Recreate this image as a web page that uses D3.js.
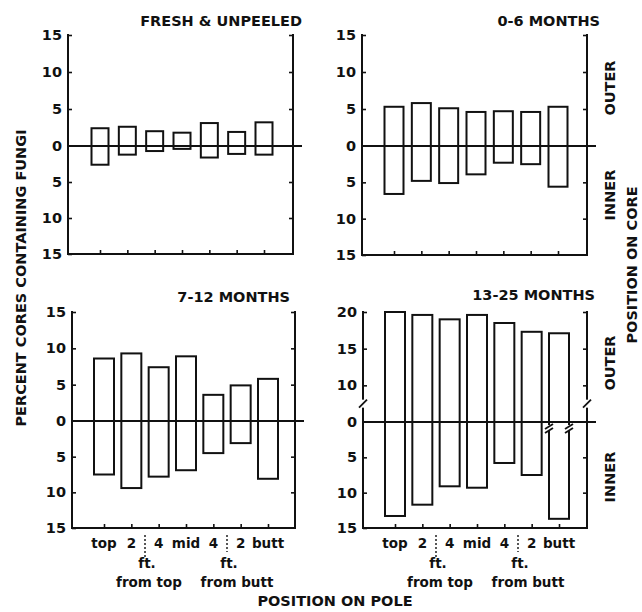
<!DOCTYPE html>
<html>
<head>
<meta charset="utf-8">
<script src="https://cdn.jsdelivr.net/npm/d3@7"></script>
<style>
  html, body { margin: 0; padding: 0; background: #fff; }
  svg text { font-family: "DejaVu Sans", sans-serif; fill: #111; font-weight: bold; }
</style>
</head>
<body>
<svg id="chart" width="642" height="612"></svg>
<script>
// ---------- data ----------
const positions = ["top", "2", "4", "mid", "4", "2", "butt"];
const panelTitles = ["FRESH & UNPEELED", "0-6 MONTHS", "7-12 MONTHS", "13-25 MONTHS"];

const outerFresh = [2.4, 2.6, 2.0, 1.8, 3.1, 1.9, 3.2];
const innerFresh = [2.6, 1.2, 0.7, 0.4, 1.6, 1.1, 1.2];

const outer0to6 = [5.3, 5.8, 5.1, 4.6, 4.7, 4.6, 5.3];
const inner0to6 = [6.6, 4.8, 5.1, 3.9, 2.3, 2.5, 5.6];

const outer7to12 = [8.6, 9.3, 7.4, 8.9, 3.6, 4.9, 5.8];
const inner7to12 = [7.5, 9.4, 7.8, 6.9, 4.5, 3.1, 8.1];

const outer13to25 = [20.0, 19.6, 19.0, 19.6, 18.5, 17.3, 17.1];
const inner13to25 = [13.3, 11.7, 9.1, 9.3, 5.8, 7.5, 13.7];

const outerTicks = [15, 10, 5, 0];
const outerTicksBroken = [20, 15, 10, 0];
const innerTicks = [5, 10, 15];

const yAxisTitle = "PERCENT CORES CONTAINING FUNGI";
const xAxisTitle = "POSITION ON POLE";
const coreTitle = "POSITION ON CORE";
const coreSides = ["OUTER", "INNER"];

// ---------- layout ----------
const svg = d3.select("#chart");
const CAP = 14.5;   // capital lettering size
const panels = [
  { title: panelTitles[0], outer: outerFresh, inner: innerFresh, left: 68, right: 293, top: 35, zero: 146, bottom: 254, titleX: 302, titleY: 26, barW: 17, labels: false, broken: false },
  { title: panelTitles[1], outer: outer0to6, inner: inner0to6, left: 362, right: 587, top: 35, zero: 146, bottom: 255, titleX: 600, titleY: 26, barW: 19, labels: false, broken: false },
  { title: panelTitles[2], outer: outer7to12, inner: inner7to12, left: 72, right: 295, top: 312, zero: 421, bottom: 528, titleX: 290, titleY: 302, barW: 20, labels: true, broken: false },
  { title: panelTitles[3], outer: outer13to25, inner: inner13to25, left: 363, right: 587, top: 312, zero: 422, bottom: 528, titleX: 595, titleY: 300, barW: 20, labels: true, broken: true }
];

const LW = 2;

panels.forEach(p => {
  const g = svg.append("g");

  const yOuter = p.broken
    ? d3.scaleLinear().domain([0, 10, 20]).range([p.zero, p.zero - (p.zero - p.top) / 3, p.top])
    : d3.scaleLinear().domain([0, 15]).range([p.zero, p.top]);
  const yInner = d3.scaleLinear().domain([0, 15]).range([p.zero, p.bottom]);
  const x = d3.scalePoint().domain(d3.range(positions.length)).range([p.left + 32, p.left + 196]);

  // bars
  g.selectAll("rect.bar").data(p.outer).join("rect")
    .attr("class", "bar")
    .attr("x", (d, i) => x(i) - p.barW / 2)
    .attr("y", d => yOuter(d))
    .attr("width", p.barW)
    .attr("height", (d, i) => yInner(p.inner[i]) - yOuter(d))
    .attr("fill", "none")
    .attr("stroke", "#111")
    .attr("stroke-width", LW);

  // axes
  const oT = p.broken ? outerTicksBroken : outerTicks;
  const leftOuter = g.append("g").attr("transform", `translate(${p.left},0)`)
    .call(d3.axisLeft(yOuter).tickValues(oT).tickSize(-4).tickPadding(6).tickFormat(d3.format("d")));
  const leftInner = g.append("g").attr("transform", `translate(${p.left},0)`)
    .call(d3.axisLeft(yInner).tickValues(innerTicks).tickSize(-4).tickPadding(6).tickFormat(d3.format("d")));
  const rightOuter = g.append("g").attr("transform", `translate(${p.right},0)`)
    .call(d3.axisRight(yOuter).tickValues(oT.filter(v => v !== 0)).tickSize(-4).tickFormat(""));
  const rightInner = g.append("g").attr("transform", `translate(${p.right},0)`)
    .call(d3.axisRight(yInner).tickValues(innerTicks.filter(v => v !== 15)).tickSize(-4).tickFormat(""));
  const bottomAx = g.append("g").attr("transform", `translate(0,${p.bottom})`)
    .call(d3.axisBottom(x).tickSize(-4).tickFormat(""));

  [leftOuter, leftInner, rightOuter, rightInner, bottomAx].forEach(a => {
    a.select(".domain").remove();
    a.selectAll("line").attr("stroke", "#111").attr("stroke-width", 1.6);
    a.selectAll("text").attr("font-size", 14.5).attr("fill", "#111")
      .style("font-family", "DejaVu Sans, sans-serif").style("font-weight", "bold");
  });
  leftOuter.selectAll(".tick").filter(d => d === 0).select("line").remove();

  // axis lines
  g.append("line").attr("x1", p.left).attr("x2", p.left).attr("y1", p.top - 1).attr("y2", p.bottom + 1)
    .attr("stroke", "#111").attr("stroke-width", LW);
  g.append("line").attr("x1", p.right).attr("x2", p.right).attr("y1", p.top - 1).attr("y2", p.bottom + 1)
    .attr("stroke", "#111").attr("stroke-width", LW);
  g.append("line").attr("x1", p.left).attr("x2", p.right).attr("y1", p.bottom).attr("y2", p.bottom)
    .attr("stroke", "#111").attr("stroke-width", LW);
  // zero line
  g.append("line").attr("x1", p.left).attr("x2", p.right + 9).attr("y1", p.zero).attr("y2", p.zero)
    .attr("stroke", "#111").attr("stroke-width", LW);

  // axis breaks
  if (p.broken) {
    const yb = (yOuter(10) + p.zero) / 2;
    [p.left, p.right].forEach(xb => {
      g.append("rect").attr("x", xb - 3).attr("y", yb - 4).attr("width", 6).attr("height", 8).attr("fill", "#fff");
      g.append("line").attr("x1", xb - 4).attr("y1", yb + 4).attr("x2", xb + 4).attr("y2", yb - 4)
        .attr("stroke", "#111").attr("stroke-width", 1.8);
    });
    const last = positions.length - 1;
    const ybb = p.zero + 6;
    [x(last) - p.barW / 2, x(last) + p.barW / 2].forEach(xb => {
      g.append("rect").attr("x", xb - 3).attr("y", ybb - 3).attr("width", 6).attr("height", 6).attr("fill", "#fff");
      g.append("line").attr("x1", xb - 4).attr("y1", ybb + 1).attr("x2", xb + 4).attr("y2", ybb - 4)
        .attr("stroke", "#111").attr("stroke-width", 1.8);
      g.append("line").attr("x1", xb - 4).attr("y1", ybb + 5).attr("x2", xb + 4).attr("y2", ybb)
        .attr("stroke", "#111").attr("stroke-width", 1.8);
    });
  }

  // title
  g.append("text").attr("x", p.titleX).attr("y", p.titleY).attr("text-anchor", "end")
    .attr("font-size", CAP).text(p.title);

  // x labels
  if (p.labels) {
    const ly = p.bottom + 20;
    g.selectAll("text.pos").data(positions).join("text")
      .attr("class", "pos")
      .attr("x", (d, i) => x(i))
      .attr("y", ly)
      .attr("text-anchor", "middle")
      .attr("font-size", 13.5)
      .text(d => d);
    const step = x.step();
    [1.5, 4.5].forEach((k, j) => {
      const xd = x(Math.floor(k)) + step * 0.5;
      g.append("line").attr("x1", xd).attr("x2", xd).attr("y1", p.bottom + 7).attr("y2", p.bottom + (j === 0 ? 31 : 24))
        .attr("stroke", "#111").attr("stroke-width", 1.4).attr("stroke-dasharray", "2,2");
      g.append("text").attr("x", xd + 2).attr("y", p.bottom + 40).attr("text-anchor", "middle")
        .attr("font-size", 13.5).text("ft.");
      g.append("text").attr("x", xd + (j === 0 ? 4 : 10)).attr("y", p.bottom + 59).attr("text-anchor", "middle")
        .attr("font-size", 13.5).text(j === 0 ? "from top" : "from butt");
    });
  }
});

// outer labels
svg.append("text").attr("transform", "translate(26,278) rotate(-90)").attr("text-anchor", "middle")
  .attr("font-size", CAP).text(yAxisTitle);
svg.append("text").attr("transform", "translate(637,265) rotate(-90)").attr("text-anchor", "middle")
  .attr("font-size", CAP).text(coreTitle);
[[88, coreSides[0]], [195, coreSides[1]], [363, coreSides[0]], [477, coreSides[1]]].forEach(([cy, t]) => {
  svg.append("text").attr("transform", `translate(615,${cy}) rotate(-90)`).attr("text-anchor", "middle")
    .attr("font-size", CAP).text(t);
});
svg.append("text").attr("x", 335).attr("y", 606).attr("text-anchor", "middle")
  .attr("font-size", CAP).text(xAxisTitle);
</script>
</body>
</html>
